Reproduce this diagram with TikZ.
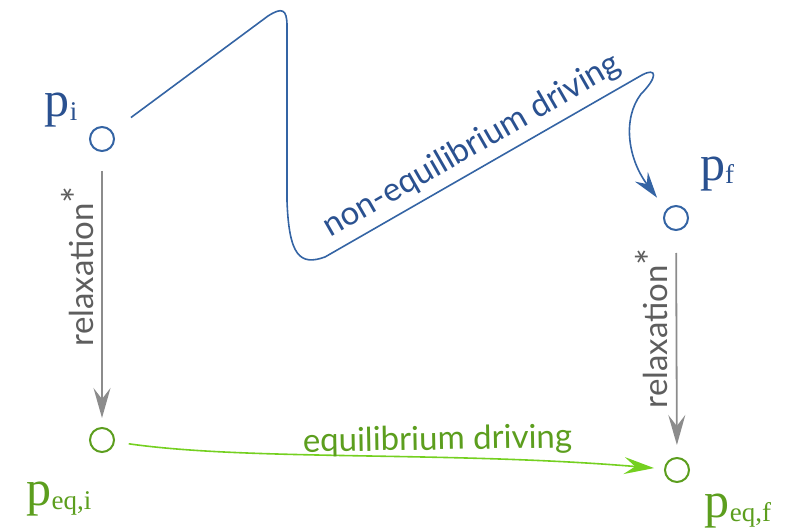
\documentclass[tikz,border=0pt]{standalone}
\usepackage{fontspec}
\setmainfont{Liberation Serif}
\newfontfamily\labfont{Lato}
\usetikzlibrary{arrows.meta}
\definecolor{driveblue}{HTML}{3464A4}
\definecolor{textblue}{HTML}{2A5190}
\definecolor{eqgreen}{HTML}{5C9E1E}
\definecolor{arrowgreen}{HTML}{74D020}
\definecolor{relaxgray}{HTML}{8C8C8C}
\definecolor{textgray}{HTML}{5E5E5E}
\newcommand{\pstate}[1]{p\raisebox{-4pt}{\fontsize{27}{27}\selectfont #1}}
\newcommand{\relaxstar}{\raisebox{2pt}{\fontsize{40}{40}\selectfont *}}

\begin{document}
\begin{tikzpicture}[x=1pt, y=1pt,
    state/.style={draw, circle, line width=2pt, minimum size=24pt, inner sep=0pt},
    plabel/.style={font=\fontsize{50}{50}\selectfont, anchor=base, inner sep=0pt},
    desc/.style={font=\labfont\fontsize{33}{33}\selectfont, inner sep=2pt},
    relax/.style={draw=relaxgray, line width=1.8pt,
                  -{Stealth[length=30pt, width=17pt, inset=11pt]}},
    ndrive/.style={draw=driveblue, line width=1.6pt,
                   -{Stealth[length=26pt, width=16pt, inset=9pt]}},
    eqdrive/.style={draw=arrowgreen, line width=1.6pt,
                    -{Stealth[length=30pt, width=17pt, inset=11pt]}}
  ]
  \useasboundingbox (0,0) rectangle (797,531);

  \node[state, draw=driveblue] (pi)   at (102,392) {};
  \node[state, draw=driveblue] (pf)   at (676,313) {};
  \node[state, draw=eqgreen]   (peqi) at (102,91)  {};
  \node[state, draw=eqgreen]   (peqf) at (677,61)  {};

  \node[plabel, text=textblue] (lpi)   at (61,414) {\pstate{i}};
  \node[plabel, text=textblue] (lpf)   at (717,351) {\pstate{f}};
  \node[plabel, text=eqgreen]  (lpeqi) at (59,26)  {\pstate{eq,i}};
  \node[plabel, text=eqgreen]  (lpeqf) at (738,14) {\pstate{eq,f}};

  \draw[relax, shorten <=19pt, shorten >=9pt] (pi) --
    node[desc, text=textgray, pos=.415, rotate=90, anchor=south, inner ysep=7pt]
    {relaxation\relaxstar} (peqi);
  \draw[relax, shorten <=22pt, shorten >=12pt] (pf) --
    node[desc, text=textgray, pos=.43, rotate=90, anchor=south, inner ysep=8pt]
    {relaxation\relaxstar} (peqf);

  \draw[ndrive, shorten <=23pt, shorten >=15pt] (pi) -- (268,515)
    .. controls (282,524) and (287,522) .. (287,505) -- (287,330)
    .. controls (289,275) and (300,265) .. (325,274)
    -- node[desc, text=textblue, sloped, anchor=south, inner ysep=7pt]
       {non-equilibrium driving} (642,456)
    .. controls (657,464) and (658,454) .. (641,437)
    .. controls (622,412) and (628,372) .. (pf.140);

  \draw[eqdrive, shorten <=14pt, shorten >=10pt] (peqi)
    .. controls (250,70) and (450,80) ..
    node[desc, text=eqgreen, pos=.635, rotate=1, anchor=south, inner ysep=1pt]
    {equilibrium driving} (peqf);
\end{tikzpicture}
\end{document}
